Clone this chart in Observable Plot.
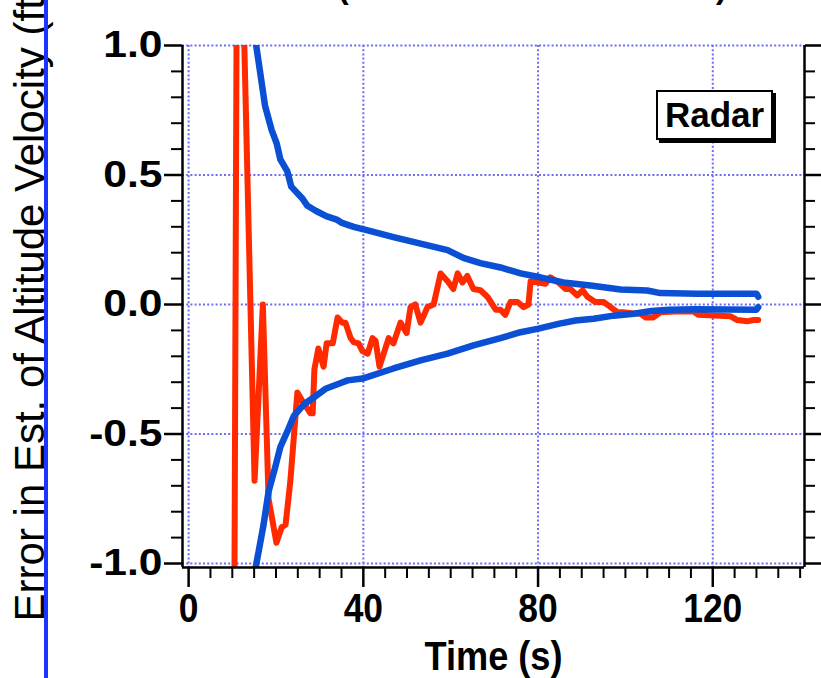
<!DOCTYPE html>
<html><head><meta charset="utf-8">
<script src="https://cdn.jsdelivr.net/npm/d3@7"></script>
<script src="https://cdn.jsdelivr.net/npm/@observablehq/plot@0.6"></script>
<style>
html,body{margin:0;padding:0;background:#fff;}
#wrap{position:relative;width:821px;height:678px;overflow:hidden;font-family:"Liberation Sans",Arial,Helvetica,sans-serif;}
#chart{position:absolute;left:0;top:0;}
.paren{position:absolute;top:-31px;font-size:32px;font-weight:bold;line-height:normal;}
#legend{position:absolute;left:656px;top:90px;width:117px;height:50px;box-sizing:border-box;border:2px solid #000;box-shadow:3px 3px 0 #000;background:#fff;font-weight:bold;font-size:35px;line-height:46px;text-align:center;}
#edge{position:absolute;left:44px;top:0;width:4px;height:678px;background:#1a35ff;}
</style></head><body>
<div id="wrap"><div id="chart"></div>
<div class="paren" style="left:338px">(</div><div class="paren" style="left:716px">)</div>
<div id="legend"></div>
<div id="edge"></div></div>
<script>
// ---- data ----
const redTime = [10.4, 11.1, 12.2, 15.1, 17.0, 18.3, 20.1, 21.3, 22.2, 23.3, 24.9, 26.3, 27.9, 28.4, 28.8, 29.7, 30.9, 31.6, 33.0, 34.1, 35.2, 35.9, 37.1, 37.8, 38.9, 39.8, 41.0, 42.1, 42.8, 43.7, 45.8, 46.9, 48.5, 49.9, 50.8, 51.9, 53.1, 54.7, 56.1, 57.7, 59.3, 60.6, 61.6, 62.7, 63.8, 65.2, 66.8, 68.4, 70.3, 71.4, 72.5, 73.7, 75.3, 76.7, 77.8, 78.3, 80.1, 81.7, 82.8, 84.7, 86.3, 87.4, 89.0, 90.2, 91.3, 93.1, 95.0, 96.6, 98.2, 99.5, 101.8, 103.4, 104.6, 106.4, 108.0, 111.4, 115.6, 116.7, 124.0, 125.6, 127.9, 129.3, 130.4];
const redError = [-1.5, 1.6, 1.4, -0.68, 0.0, -0.75, -0.92, -0.86, -0.85, -0.68, -0.34, -0.38, -0.42, -0.42, -0.25, -0.17, -0.24, -0.15, -0.15, -0.05, -0.07, -0.07, -0.13, -0.145, -0.15, -0.18, -0.19, -0.13, -0.14, -0.24, -0.13, -0.15, -0.07, -0.11, -0.01, 0.0, -0.07, -0.01, 0.0, 0.12, 0.09, 0.06, 0.12, 0.085, 0.11, 0.06, 0.055, 0.03, -0.02, -0.02, -0.04, 0.01, 0.01, -0.01, 0.0, 0.09, 0.085, 0.08, 0.105, 0.085, 0.06, 0.06, 0.035, 0.055, 0.03, 0.01, 0.01, -0.01, -0.03, -0.03, -0.035, -0.035, -0.05, -0.05, -0.03, -0.027, -0.027, -0.04, -0.045, -0.06, -0.065, -0.06, -0.06];

const upperTime = [15.3, 17.5, 19.0, 20.2, 21.0, 22.6, 23.5, 26.1, 27.2, 29.2, 31.5, 33.9, 35.1, 37.8, 41.0, 46.9, 53.1, 59.3, 62.9, 66.8, 71.4, 76.0, 80.5, 85.8, 92.0, 98.9, 105.0, 108.0, 116.5, 130.0, 130.4];
const upperBound = [1.02, 0.767, 0.674, 0.62, 0.56, 0.514, 0.455, 0.408, 0.381, 0.361, 0.341, 0.328, 0.315, 0.30, 0.286, 0.26, 0.235, 0.21, 0.18, 0.16, 0.143, 0.12, 0.105, 0.085, 0.073, 0.058, 0.054, 0.044, 0.042, 0.042, 0.03];

const lowerTime = [15.3, 17.1, 18.3, 19.8, 21.0, 22.6, 24.1, 26.5, 28.8, 31.5, 34.7, 36.4, 39.8, 46.9, 53.1, 59.3, 65.2, 71.4, 76.0, 80.1, 84.9, 88.6, 92.7, 97.3, 101.9, 106.0, 110.0, 116.0, 130.0, 130.4];
const lowerBound = [-1.02, -0.856, -0.723, -0.63, -0.55, -0.49, -0.43, -0.384, -0.357, -0.324, -0.304, -0.293, -0.286, -0.247, -0.216, -0.19, -0.158, -0.13, -0.107, -0.093, -0.074, -0.062, -0.055, -0.043, -0.036, -0.025, -0.02, -0.018, -0.02, -0.01];

const xMajorTicks = [0, 40, 80, 120];
const xMinorTicks = [5, 10, 15, 20, 25, 30, 35, 45, 50, 55, 60, 65, 70, 75, 85, 90, 95, 100, 105, 110, 115, 125, 130, 135, 140];
const yMajorTicks = [-1.0, -0.5, 0.0, 0.5, 1.0];
const yMinorTicks = [-0.9, -0.8, -0.7, -0.6, -0.4, -0.3, -0.2, -0.1, 0.1, 0.2, 0.3, 0.4, 0.6, 0.7, 0.8, 0.9];
const xDomain = [-1.4, 141];
const yDomain = [-1.0154, 1.0];

const xTitle = "Time (s)";
const yTitle = "Error in Est. of Altitude Velocity (ft/s)";
const legendLabel = "Radar";

// ---- build ----
const rows = (ts, vs) => ts.map((t, i) => ({t, v: vs[i]}));
const red = rows(redTime, redError);
const upper = rows(upperTime, upperBound);
const lower = rows(lowerTime, lowerBound);

const font = "Liberation Sans, Arial, Helvetica, sans-serif";
const gridColor = "#6c6cf4";
const redColor = "#ff2a00";
const blueColor = "#0a4fd4";
const blank = () => "";
const xFmt = d => String(d);
const yFmt = d => d.toFixed(1);

const chart = Plot.plot({
  width: 821, height: 678,
  marginTop: 45, marginBottom: 111, marginLeft: 182, marginRight: 17,
  x: {domain: xDomain, axis: null},
  y: {domain: yDomain, axis: null},
  style: {fontFamily: font, background: "white", overflow: "visible", color: "black"},
  marks: [
    Plot.gridX(xMajorTicks, {stroke: gridColor, strokeOpacity: 1, strokeWidth: 2, strokeDasharray: "2,2.2"}),
    Plot.gridY(yMajorTicks, {stroke: gridColor, strokeOpacity: 1, strokeWidth: 2, strokeDasharray: "2,2.2"}),
    Plot.line(red, {x: "t", y: "v", stroke: redColor, strokeWidth: 6, clip: true}),
    Plot.line(upper, {x: "t", y: "v", stroke: blueColor, strokeWidth: 6.5, clip: true}),
    Plot.line(lower, {x: "t", y: "v", stroke: blueColor, strokeWidth: 6.5, clip: true}),
    Plot.ruleX([xDomain[0], xDomain[1]], {stroke: "black", strokeWidth: 2.5}),
    Plot.ruleY([yDomain[0]], {stroke: "black", strokeWidth: 2.5}),
    Plot.axisX(xMajorTicks, {anchor: "bottom", tickSize: 20, tickPadding: 6, fontSize: 40, fontWeight: "bold", strokeWidth: 2.5, label: null, tickFormat: xFmt}),
    Plot.axisX(xMinorTicks, {anchor: "bottom", tickSize: 11, strokeWidth: 2, label: null, tickFormat: blank}),
    Plot.axisY(yMajorTicks, {anchor: "left", tickSize: 18, tickPadding: 2, fontSize: 37, fontWeight: "bold", strokeWidth: 2.5, label: null, tickFormat: yFmt}),
    Plot.axisY(yMinorTicks, {anchor: "left", tickSize: 11, strokeWidth: 2, label: null, tickFormat: blank}),
    Plot.axisY(yMajorTicks, {anchor: "right", tickSize: 18, strokeWidth: 2.5, label: null, tickFormat: blank}),
    Plot.axisY(yMinorTicks, {anchor: "right", tickSize: 10, strokeWidth: 2, label: null, tickFormat: blank}),
    Plot.text([xTitle], {text: d => d, frameAnchor: "bottom", dy: 90, lineAnchor: "middle", textAnchor: "middle", fontSize: 40, fontWeight: "bold", fill: "black"}),
    Plot.text([yTitle], {text: d => d, frameAnchor: "left", rotate: -90, dx: -152, dy: -20, textAnchor: "middle", lineAnchor: "middle", fontSize: 42, fill: "black"})
  ]
});
document.getElementById("chart").appendChild(chart);
document.getElementById("legend").textContent = legendLabel;

// horizontal glyph proportion of the reference lettering
const xLabelSet = new Set(xMajorTicks.map(xFmt));
const yLabelSet = new Set(yMajorTicks.map(yFmt));
chart.querySelectorAll("text").forEach(t => {
  const s = t.textContent.trim();
  let f = null;
  if (s === xTitle) f = 0.905;
  else if (yLabelSet.has(s)) f = 1.15;
  else if (xLabelSet.has(s)) f = 0.885;
  if (f == null) return;
  const L = t.getComputedTextLength();
  if (L > 0) { t.setAttribute("textLength", (L * f).toFixed(1)); t.setAttribute("lengthAdjust", "spacingAndGlyphs"); }
});
</script>
</body></html>
